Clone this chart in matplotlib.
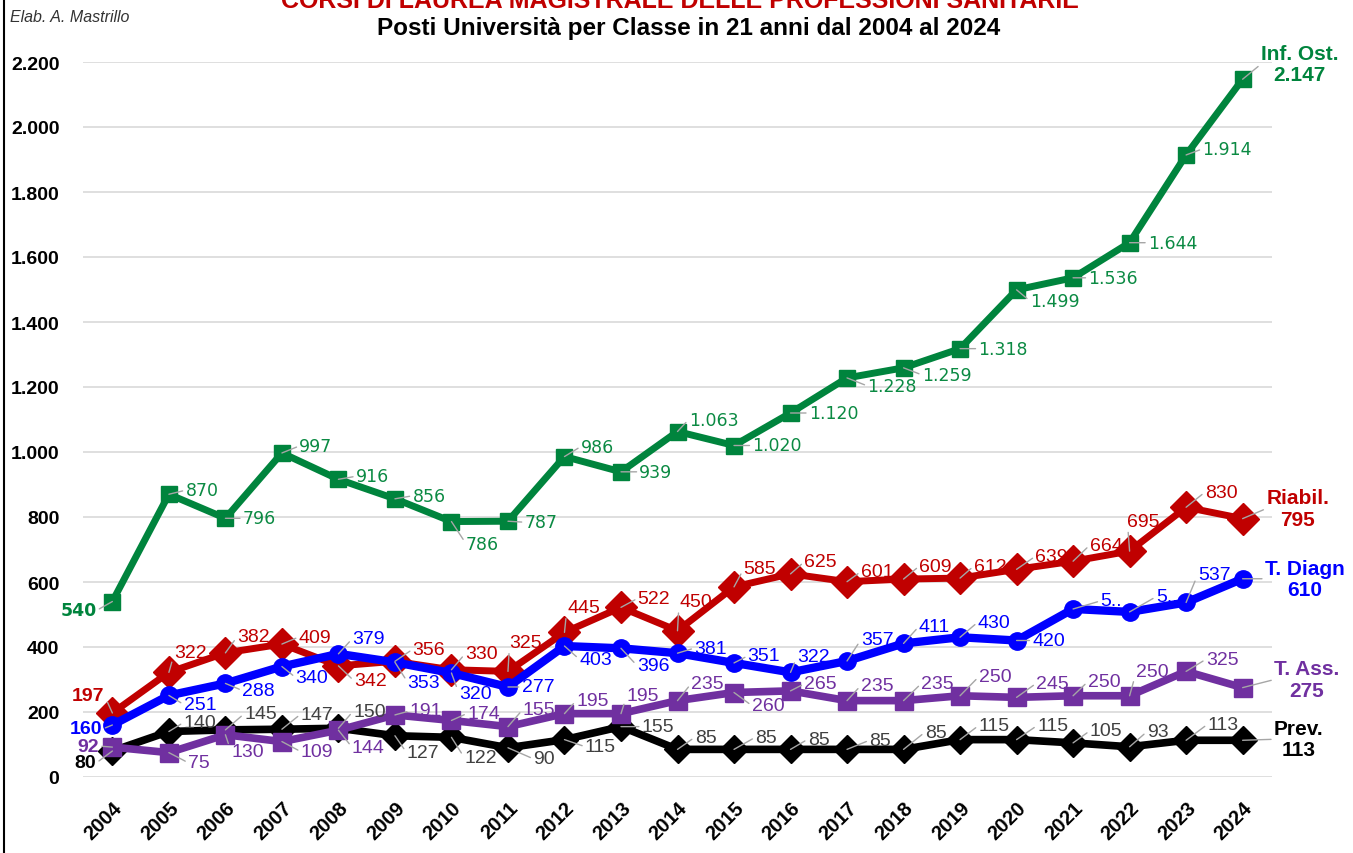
import matplotlib

matplotlib.use("Agg")  # headless
import matplotlib.pyplot as plt  # noqa: E402
from matplotlib.lines import Line2D  # noqa: E402

# ---------------------------------------------------------------------------
# data (posti per classe di laurea magistrale, 2004-2024)
# ---------------------------------------------------------------------------
years = list(range(2004, 2025))
inf_ost = [540, 870, 796, 997, 916, 856, 786, 787, 986, 939, 1063,
           1020, 1120, 1228, 1259, 1318, 1499, 1536, 1644, 1914, 2147]
riabil = [197, 322, 382, 409, 342, 356, 330, 325, 445, 522, 450,
          585, 625, 601, 609, 612, 639, 664, 695, 830, 795]
t_diagn = [160, 251, 288, 340, 379, 353, 320, 277, 403, 396, 381,
           351, 322, 357, 411, 430, 420, 517, 508, 537, 610]
t_ass = [92, 75, 130, 109, 144, 191, 174, 155, 195, 195, 235,
         260, 265, 235, 235, 250, 245, 250, 250, 325, 275]
prev = [80, 140, 145, 147, 150, 127, 122, 90, 115, 155, 85,
        85, 85, 85, 85, 115, 115, 105, 93, 113, 113]

series_names = ["Inf. Ost.", "Riabil.", "T. Diagn", "T. Ass.", "Prev."]
# labels that Excel truncated in the original
label_override = {("T. Diagn", 2021): "5..", ("T. Diagn", 2022): "5.."}

# label offsets in pixels (dx right, dy down) from each point
off_inf = [(-34, 9), (33, -4), (34, 0), (34, -7), (34, -3), (34, -3), (31, 22),
           (33, 1), (33, -10), (35, 0), (36, -12), (43, 0), (43, 0), (45, 8),
           (43, 7), (43, 0), (38, 11), (40, 0), (43, 0), (41, -6), (57, -15)]
off_ria = [(-24, -17), (22, -20), (28, -16), (33, -7), (32, 15), (34, -12),
           (30, -16), (18, -29), (19, -25), (33, -9), (18, -29), (26, -18),
           (30, -12), (30, -10), (32, -13), (30, -12), (35, -13), (33, -16),
           (14, -30), (35, -15), (55, -10)]
off_dia = [(-26, 4), (31, 9), (33, 7), (30, 11), (30, -15), (29, 20), (24, 21),
           (30, 0), (31, 13), (32, 17), (33, -5), (30, -7), (23, -16),
           (30, -21), (31, -17), (34, -15), (32, 0), (38, -8), (37, -15),
           (28, -28), (62, 0)]
off_ass = [(-24, -1), (30, 10), (22, 17), (35, 10), (30, 17), (31, -4),
           (32, -7), (31, -17), (28, -13), (22, -18), (30, -17), (34, 13),
           (30, -7), (30, -15), (34, -17), (35, -19), (36, -14), (31, -14),
           (23, -24), (36, -12), (64, -8)]
off_prev = [(-27, 12), (31, -9), (35, -16), (35, -15), (31, -17), (28, 17),
            (29, 20), (36, 11), (36, 7), (37, 0), (28, -12), (32, -12),
            (28, -10), (33, -9), (32, -17), (34, -14), (36, -14), (33, -12),
            (28, -15), (37, -16), (56, -1)]

# palette
_C_GREEN = "#00843d"
_C_RED = "#c00000"
_C_BLUE = "#0000ff"
_C_PURPLE = "#7030a0"
_C_BLACK = "#000000"
_C_LEADER = "#a6a6a6"
_SANS = ["Liberation Sans", "DejaVu Sans"]

# name, values, line colour, label colour, marker, marker size, line width, z, offsets, label font
styles = [
    ("Prev.", prev, _C_BLACK, "#404040", "D", 14, 5.5, 3, off_prev, _SANS),
    ("Riabil.", riabil, _C_RED, _C_RED, "D", 16, 5.0, 3, off_ria, _SANS),
    ("T. Ass.", t_ass, _C_PURPLE, _C_PURPLE, "s", 12.5, 5.5, 4, off_ass, _SANS),
    ("T. Diagn", t_diagn, _C_BLUE, _C_BLUE, "o", 12.5, 6.0, 5, off_dia, _SANS),
    ("Inf. Ost.", inf_ost, _C_GREEN, "#0b8a43", "s", 12, 5.0, 6, off_inf, ["DejaVu Sans"]),
]


def _fmt(v):
    return f"{v:,.0f}".replace(",", ".")


W, H = 1353, 854
fig = plt.figure(figsize=(W / 100, H / 100), dpi=100)
ax = fig.add_axes([83 / W, (H - 778) / H, (1272 - 83) / W, (778 - 63) / H])

for name, vals, col, lcol, mk, ms, lw, z, offs, fam in styles:
    ax.plot(years, vals, color=col, lw=lw, marker=mk, ms=ms, zorder=z,
            solid_joinstyle="round", clip_on=False)
    last = len(vals) - 1
    for i, (yr, v) in enumerate(zip(years, vals)):
        dx, dy = offs[i]
        if i == last:
            txt = f"{name}\n{_fmt(v)}"
            kw = dict(fontsize=15, fontweight="bold", color=col, family=_SANS,
                      linespacing=1.15)
        else:
            txt = label_override.get((name, yr), _fmt(v))
            kw = dict(fontsize=12.5 if fam[0] == "DejaVu Sans" else 14, color=lcol, family=fam)
            if i == 0:
                kw["fontweight"] = "bold"
                kw["color"] = col
        ax.annotate(
            txt, xy=(yr, v), xytext=(dx, -dy), textcoords="offset pixels",
            ha="center", va="center", zorder=10, annotation_clip=False,
            arrowprops=dict(arrowstyle="-", color=_C_LEADER, lw=1, shrinkA=0, shrinkB=0,
                            relpos=(1, 0.5) if dx < 0 else (0, 0.5)),
            **kw,
        )

ax.set_xlim(2003.48, 2024.52)
ax.set_ylim(0, 2200)
ax.set_yticks(range(0, 2201, 200))
ax.set_yticklabels([_fmt(t) for t in range(0, 2201, 200)], fontsize=14,
                   fontweight="bold", family=_SANS)
ax.set_xticks(years)
ax.set_xticklabels([str(y) for y in years], fontsize=14.5, fontweight="bold", family=_SANS,
                   rotation=45, ha="right", va="top", rotation_mode="anchor")
ax.tick_params(axis="both", length=0)
ax.tick_params(axis="y", pad=17)
ax.tick_params(axis="x", pad=15)
for s in ax.spines.values():
    s.set_visible(False)
ax.grid(axis="y", color="#d9d9d9", lw=1.2)
ax.set_axisbelow(True)

# titles
fig.text(680 / W, 1 - 8 / H, "CORSI DI LAUREA MAGISTRALE DELLE PROFESSIONI SANITARIE",
         ha="center", va="baseline", fontsize=18, fontweight="bold", color=_C_RED, family=_SANS)
fig.text(689 / W, 1 - 28 / H, "Posti Università per Classe in 21 anni dal 2004 al 2024",
         ha="center", va="center", fontsize=17.5, fontweight="bold", color="black", family=_SANS)
fig.text(10 / W, 1 - 18 / H, "Elab. A. Mastrillo", ha="left", va="center",
         fontsize=11.5, style="italic", color="#333333", family=_SANS)

# frame line on the left edge
fig.add_artist(Line2D([4 / W, 4 / W], [0, 1], color="black", lw=1.5,
                      transform=fig.transFigure))

fig.savefig("out.png", dpi=100)
